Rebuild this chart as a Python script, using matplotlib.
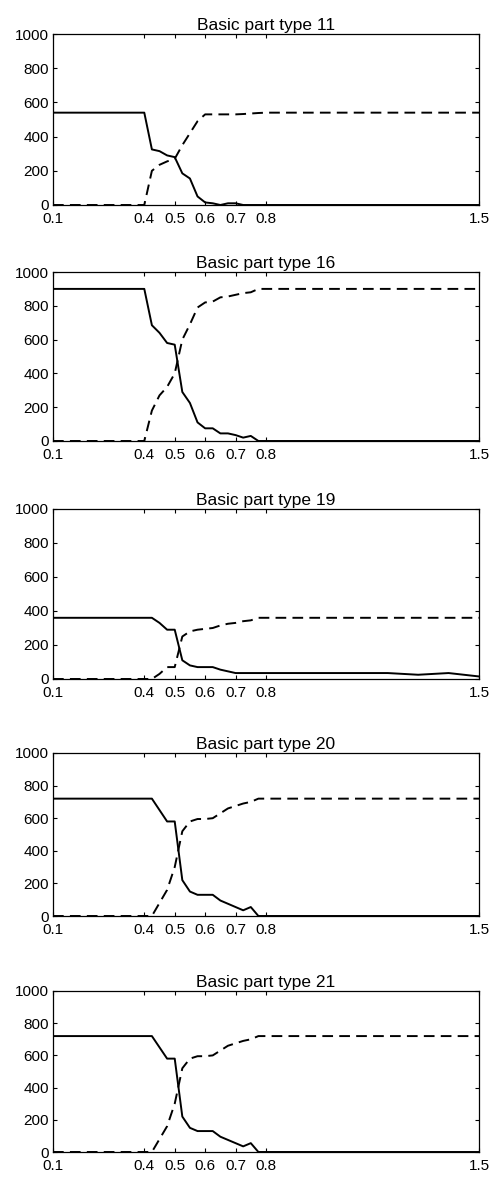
import matplotlib.pyplot as plt

plt.rcParams['font.family'] = ['Liberation Sans', 'DejaVu Sans']

# ================== DATA ==================

x_vals = [0.1, 0.4, 0.425, 0.45, 0.475, 0.5, 0.525, 0.55, 0.575, 0.6, 0.625,
          0.65, 0.675, 0.7, 0.725, 0.75, 0.775, 0.8, 1.2, 1.3, 1.4, 1.5]

part_types = ["11", "16", "19", "20", "21"]

solid_11 = [540, 540, 325, 315, 290, 280, 185, 155, 50, 15, 10, 0, 10, 10, 0, 0, 0, 0, 0, 0, 0, 0]
dashed_11 = [0, 0, 200, 235, 255, 270, 350, 420, 490, 530, 530, 530, 530, 530, 532, 535, 538, 540, 540, 540, 540, 540]

solid_16 = [900, 900, 685, 640, 580, 570, 290, 225, 110, 75, 75, 45, 45, 35, 20, 30, 0, 0, 0, 0, 0, 0]
dashed_16 = [0, 0, 180, 270, 320, 400, 600, 690, 790, 820, 825, 850, 855, 865, 875, 880, 900, 900, 900, 900, 900, 900]

solid_19 = [360, 360, 360, 330, 290, 290, 110, 80, 70, 70, 70, 55, 45, 35, 35, 35, 35, 35, 35, 25, 35, 15]
dashed_19 = [0, 0, 0, 30, 70, 70, 250, 280, 290, 295, 300, 315, 325, 330, 340, 345, 360, 360, 360, 360, 360, 360]

solid_20 = [720, 720, 720, 650, 580, 580, 220, 150, 130, 130, 130, 95, 75, 55, 35, 55, 0, 0, 0, 0, 0, 0]
dashed_20 = [0, 0, 0, 80, 160, 300, 520, 580, 595, 595, 600, 630, 660, 675, 690, 700, 720, 720, 720, 720, 720, 720]

solid_21 = [720, 720, 720, 650, 580, 580, 220, 150, 130, 130, 130, 95, 75, 55, 35, 55, 0, 0, 0, 0, 0, 0]
dashed_21 = [0, 0, 0, 80, 160, 300, 520, 580, 595, 595, 600, 630, 660, 675, 690, 700, 720, 720, 720, 720, 720, 720]

x_ticks = [0.1, 0.4, 0.5, 0.6, 0.7, 0.8, 1.5]
x_tick_labels = ["0.1", "0.4", "0.5", "0.6", "0.7", "0.8", "1.5"]
y_ticks = [0, 200, 400, 600, 800, 1000]

solids = [solid_11, solid_16, solid_19, solid_20, solid_21]
dashes = [dashed_11, dashed_16, dashed_19, dashed_20, dashed_21]

# ================== PLOT ==================

W, H = 495, 1178
fig = plt.figure(figsize=(W / 100, H / 100), dpi=100)

# axes boxes in pixels: (top, bottom)
boxes = [(34, 205), (272, 441), (509, 679), (753, 916), (991, 1152)]
left, right = 53, 479

for i, (top, bottom) in enumerate(boxes):
    ax = fig.add_axes([left / W, 1 - bottom / H, (right - left) / W, (bottom - top) / H])
    ax.plot(x_vals, solids[i], color="black", lw=1.4, linestyle="-")
    ax.plot(x_vals, dashes[i], color="black", lw=1.4, linestyle=(0, (5.5, 3.2)))

    ax.set_xlim(0.1, 1.5)
    ax.set_ylim(0, 1000)
    ax.set_xticks(x_ticks)
    ax.set_xticklabels(x_tick_labels)
    ax.set_yticks(y_ticks)
    ax.tick_params(direction="in", top=True, right=True, length=3, width=0.8,
                   labelsize=11)
    ax.tick_params(axis="x", pad=5)
    ax.tick_params(axis="y", pad=3)
    for s in ax.spines.values():
        s.set_linewidth(0.9)
    ax.set_title("Basic part type " + part_types[i], fontsize=12.5, pad=3)

fig.savefig("out.png", dpi=100)
